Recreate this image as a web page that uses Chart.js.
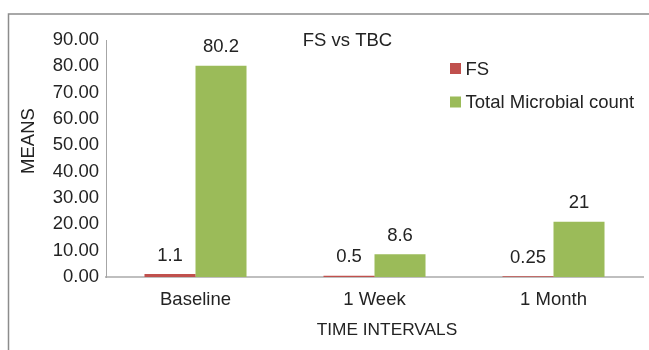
<!DOCTYPE html>
<html>
<head>
<meta charset="utf-8">
<script src="https://cdn.jsdelivr.net/npm/chart.js@4"></script>
<style>
    html, body { margin: 0; padding: 0; background: #fff; }
    .chart-container { position: relative; width: 649px; height: 350px; }
</style>
</head>
<body>
<div class="chart-container">
    <canvas id="myChart" width="649" height="350"></canvas>
</div>
<script>
const categories = ['Baseline', '1 Week', '1 Month'];
const fsValues = [1.1, 0.5, 0.25];
const tbcValues = [80.2, 8.6, 21];
const seriesNames = ['FS', 'Total Microbial count'];

const textColor = '#232323';
const font = 'Liberation Sans, Arial, sans-serif';

// frame, title, axis titles, value labels and legend
const decorations = {
    id: 'decorations',
    beforeDraw(chart) {
        const ctx = chart.ctx;
        ctx.save();
        ctx.strokeStyle = '#8c8c8c';
        ctx.lineWidth = 1.5;
        ctx.beginPath();
        ctx.moveTo(8.5, 360);
        ctx.lineTo(8.5, 14);
        ctx.lineTo(660, 14);
        ctx.stroke();
        ctx.restore();
    },
    afterDatasetsDraw(chart) {
        const ctx = chart.ctx;
        ctx.save();
        ctx.fillStyle = textColor;
        ctx.font = `18.5px ${font}`;
        ctx.textAlign = 'center';
        ctx.textBaseline = 'middle';

        chart.data.datasets.forEach((ds, i) => {
            chart.getDatasetMeta(i).data.forEach((bar, j) => {
                ctx.fillText(String(ds.data[j]), bar.x, bar.y - 18.5);
            });
        });

        // chart title
        ctx.fillText('FS vs TBC', 347.5, 41);

        // axis titles
        ctx.font = `17.3px ${font}`;
        ctx.fillText('TIME INTERVALS', 387, 330);
        ctx.save();
        ctx.translate(29, 141);
        ctx.rotate(-Math.PI / 2);
        ctx.font = `18.5px ${font}`;
        ctx.fillText('MEANS', 0, 0);
        ctx.restore();

        // legend
        ctx.textAlign = 'left';
        ctx.font = `18.5px ${font}`;
        chart.data.datasets.forEach((ds, i) => {
            const cy = 68.5 + i * 33.5;
            ctx.fillStyle = ds.backgroundColor;
            ctx.fillRect(450, cy - 5.5, 11, 11);
            ctx.fillStyle = textColor;
            ctx.fillText(ds.label, 465.5, cy + 1);
        });
        ctx.restore();
    }
};

const myChart = new Chart(document.getElementById('myChart'), {
    type: 'bar',
    data: {
        labels: categories,
        datasets: [{
            label: seriesNames[0],
            data: fsValues,
            backgroundColor: '#C0504D',
            categoryPercentage: 0.57,
            barPercentage: 1.0
        }, {
            label: seriesNames[1],
            data: tbcValues,
            backgroundColor: '#9BBB59',
            categoryPercentage: 0.57,
            barPercentage: 1.0
        }]
    },
    options: {
        responsive: false,
        animation: false,
        layout: {
            padding: { left: 46, top: 40, right: 6, bottom: 0 }
        },
        plugins: {
            legend: { display: false },
            tooltip: { enabled: false },
            title: { display: false }
        },
        scales: {
            x: {
                grid: { display: false, drawTicks: false },
                border: { display: true, color: '#bfbfbf', width: 2 },
                ticks: {
                    color: textColor,
                    font: { family: font, size: 18.5 },
                    padding: 12,
                    maxRotation: 0
                },
                afterFit(scale) { scale.height = 73; }
            },
            y: {
                min: 0,
                max: 90,
                grid: { display: false, drawTicks: false },
                border: { display: true, color: '#a6a6a6', width: 1 },
                ticks: {
                    stepSize: 10,
                    color: textColor,
                    font: { family: font, size: 18.5 },
                    padding: 7,
                    callback: (v) => v.toFixed(2)
                },
                afterFit(scale) { scale.width = 60; }
            }
        }
    },
    plugins: [decorations]
});
</script>
</body>
</html>
